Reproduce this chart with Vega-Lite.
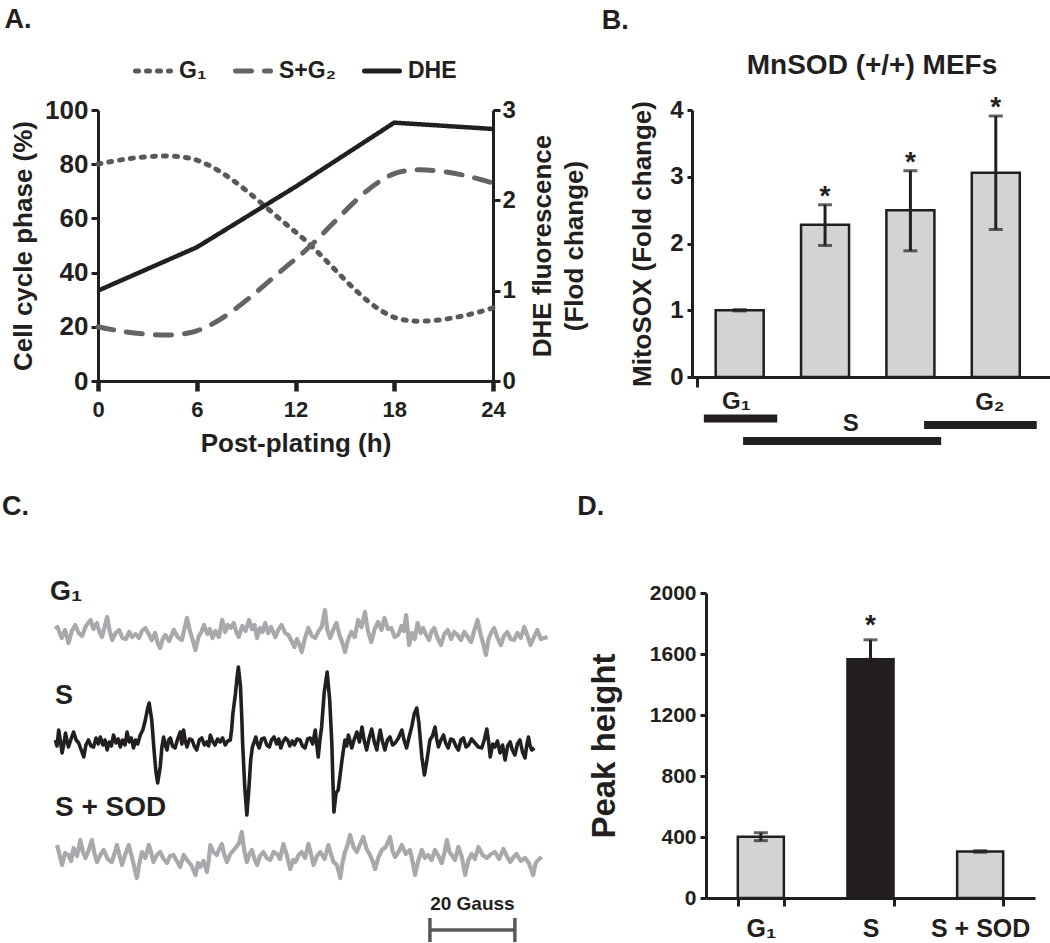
{
  "$schema": "https://vega.github.io/schema/vega-lite/v6.json",
  "background": "white",
  "padding": {"left": 2, "top": 6, "right": 0, "bottom": 0},
  "config": {
    "font": "Liberation Sans",
    "view": {"stroke": null},
    "axis": {"grid": false, "labelFontWeight": "bold", "titleFontWeight": "bold", "labelColor": "#231f20", "titleColor": "#231f20", "domainColor": "#231f20", "tickColor": "#231f20", "labelFont": "Liberation Sans", "titleFont": "Liberation Sans"},
    "title": {"font": "Liberation Sans", "fontWeight": "bold", "color": "#231f20"}
  },
  "datasets": {
    "cycle": [
      {"series": "G₁", "h": 0, "pct": 80}, {"series": "G₁", "h": 6, "pct": 81.5}, {"series": "G₁", "h": 12, "pct": 55}, {"series": "G₁", "h": 18, "pct": 23.5}, {"series": "G₁", "h": 24, "pct": 27},
      {"series": "S+G₂", "h": 0, "pct": 20}, {"series": "S+G₂", "h": 6, "pct": 18.5}, {"series": "S+G₂", "h": 12, "pct": 45}, {"series": "S+G₂", "h": 18, "pct": 76.5}, {"series": "S+G₂", "h": 24, "pct": 73}
    ],
    "dhe": [
      {"series": "DHE", "h": 0, "fold": 1.0}, {"series": "DHE", "h": 6, "fold": 1.48}, {"series": "DHE", "h": 12, "fold": 2.15}, {"series": "DHE", "h": 18, "fold": 2.86}, {"series": "DHE", "h": 24, "fold": 2.79}
    ],
    "mito": [
      {"slot": 1, "v": 1.0, "lo": 0.99, "hi": 1.01, "star": ""},
      {"slot": 2, "v": 2.28, "lo": 1.97, "hi": 2.58, "star": "*"},
      {"slot": 3, "v": 2.5, "lo": 1.89, "hi": 3.09, "star": "*"},
      {"slot": 4, "v": 3.06, "lo": 2.21, "hi": 3.91, "star": "*"}
    ],
    "phases": [
      {"phase": "G₁", "start": 0.58, "end": 1.44, "level": -0.62, "lx": 0.96, "ly": -0.38},
      {"phase": "S", "start": 1.04, "end": 3.36, "level": -0.96, "lx": 2.3, "ly": -0.71},
      {"phase": "G₂", "start": 3.16, "end": 4.48, "level": -0.72, "lx": 3.93, "ly": -0.39}
    ],
    "peak": [
      {"t": "G₁", "v": 402, "lo": 376, "hi": 428, "star": ""},
      {"t": "S", "v": 1565, "lo": 1565, "hi": 1693, "star": "*"},
      {"t": "S + SOD", "v": 305, "lo": 300, "hi": 310, "star": ""}
    ],
    "scalebar": [{"g0": 88.2, "g1": 108.2, "mid": 98.2, "label": "20 Gauss"}],
    "eprG1": [
      {"g":0,"v":6},{"g":0.5,"v":8},{"g":1.5,"v":-3},{"g":2.3,"v":5},{"g":3.1,"v":-8},{"g":3.9,"v":4},{"g":4.7,"v":10},{"g":5.5,"v":2},{"g":6.3,"v":-1},{"g":7.2,"v":9},{"g":8.3,"v":15},{"g":9,"v":6},{"g":9.8,"v":12},{"g":10.4,"v":3},{"g":11,"v":-2},{"g":11.6,"v":8},{"g":12.2,"v":18},{"g":12.8,"v":4},{"g":13.4,"v":-5},{"g":14.2,"v":2},{"g":15,"v":5},{"g":15.8,"v":-3},{"g":16.6,"v":-4},{"g":17.4,"v":3},{"g":18.1,"v":-2},{"g":18.9,"v":1},{"g":19.7,"v":-3},{"g":20.4,"v":4},{"g":21.2,"v":7},{"g":22,"v":1},{"g":22.7,"v":-5},{"g":23.5,"v":2},{"g":24.1,"v":-8},{"g":24.7,"v":-13},{"g":25.3,"v":-4},{"g":25.9,"v":0},{"g":26.8,"v":-6},{"g":27.9,"v":5},{"g":28.8,"v":-2},{"g":29.8,"v":-5},{"g":30.4,"v":6},{"g":31,"v":17},{"g":31.7,"v":4},{"g":32.4,"v":-6},{"g":33,"v":-15},{"g":33.7,"v":-2},{"g":34.4,"v":3},{"g":35,"v":10},{"g":35.8,"v":1},{"g":36.4,"v":6},{"g":37,"v":-3},{"g":37.7,"v":4},{"g":38.5,"v":-2},{"g":39.3,"v":15},{"g":40,"v":3},{"g":40.6,"v":10},{"g":41.3,"v":7},{"g":42,"v":12},{"g":42.6,"v":3},{"g":43.2,"v":-2},{"g":44,"v":9},{"g":44.8,"v":4},{"g":45.6,"v":15},{"g":46.3,"v":6},{"g":46.9,"v":10},{"g":47.5,"v":-3},{"g":48.2,"v":7},{"g":48.8,"v":3},{"g":49.4,"v":12},{"g":50.1,"v":2},{"g":50.8,"v":8},{"g":51.8,"v":-2},{"g":52.5,"v":5},{"g":53.3,"v":10},{"g":54.1,"v":2},{"g":54.9,"v":0},{"g":55.6,"v":-6},{"g":56.3,"v":-12},{"g":56.9,"v":-4},{"g":57.5,"v":-10},{"g":58,"v":-17},{"g":58.8,"v":-3},{"g":59.6,"v":7},{"g":60.4,"v":-1},{"g":61.2,"v":-3},{"g":62,"v":4},{"g":62.7,"v":8},{"g":63.1,"v":16},{"g":63.5,"v":25},{"g":64,"v":6},{"g":64.7,"v":-3},{"g":65.4,"v":5},{"g":66.2,"v":12},{"g":66.9,"v":0},{"g":67.6,"v":-8},{"g":68.2,"v":-17},{"g":68.9,"v":-5},{"g":69.7,"v":3},{"g":70.5,"v":-2},{"g":71.3,"v":15},{"g":72.1,"v":8},{"g":72.9,"v":23},{"g":73.6,"v":4},{"g":74.4,"v":-7},{"g":75.2,"v":6},{"g":76,"v":13},{"g":76.8,"v":5},{"g":77.5,"v":17},{"g":78.3,"v":6},{"g":79.1,"v":7},{"g":79.9,"v":-2},{"g":80.7,"v":0},{"g":81.5,"v":9},{"g":82.1,"v":4},{"g":82.6,"v":20},{"g":83.3,"v":-10},{"g":84,"v":2},{"g":84.6,"v":-4},{"g":85.3,"v":12},{"g":86,"v":2},{"g":86.6,"v":7},{"g":87.3,"v":0},{"g":88,"v":-5},{"g":88.6,"v":4},{"g":89.2,"v":7},{"g":90,"v":-3},{"g":90.8,"v":-10},{"g":91.6,"v":1},{"g":92.4,"v":5},{"g":93.2,"v":-4},{"g":93.9,"v":3},{"g":94.7,"v":0},{"g":95.5,"v":-5},{"g":96.3,"v":3},{"g":97.1,"v":-2},{"g":97.9,"v":-7},{"g":98.6,"v":4},{"g":99.4,"v":15},{"g":100,"v":3},{"g":100.7,"v":-8},{"g":101.4,"v":-20},{"g":102,"v":-4},{"g":102.6,"v":2},{"g":103.3,"v":7},{"g":104.1,"v":-3},{"g":104.9,"v":-10},{"g":105.6,"v":-1},{"g":106.4,"v":3},{"g":107.2,"v":-4},{"g":108,"v":-5},{"g":108.8,"v":2},{"g":109.6,"v":-3},{"g":110.4,"v":8},{"g":111.1,"v":0},{"g":111.9,"v":-10},{"g":112.7,"v":-2},{"g":113.5,"v":5},{"g":114.3,"v":-4},{"g":115.1,"v":-3},{"g":115.9,"v":-2}
    ],
    "eprS": [
      {"g":0,"v":2},{"g":0.4,"v":-4},{"g":0.8,"v":12},{"g":1.2,"v":1},{"g":1.6,"v":-11},{"g":2,"v":-2},{"g":2.4,"v":9},{"g":2.8,"v":0},{"g":3.1,"v":-5},{"g":3.7,"v":3},{"g":4.3,"v":10},{"g":4.9,"v":2},{"g":5.5,"v":-1},{"g":6.1,"v":-8},{"g":6.7,"v":-15},{"g":7.2,"v":-3},{"g":7.8,"v":2},{"g":8.4,"v":-4},{"g":9,"v":-5},{"g":9.6,"v":4},{"g":10.1,"v":-2},{"g":10.6,"v":5},{"g":11.2,"v":-3},{"g":11.7,"v":2},{"g":12.2,"v":-8},{"g":12.7,"v":0},{"g":13.2,"v":-4},{"g":13.7,"v":7},{"g":14.3,"v":-1},{"g":14.8,"v":3},{"g":15.3,"v":-5},{"g":15.8,"v":2},{"g":16.4,"v":-3},{"g":16.9,"v":10},{"g":17.4,"v":0},{"g":17.9,"v":4},{"g":18.4,"v":-6},{"g":18.9,"v":2},{"g":19.4,"v":-2},{"g":20,"v":7},{"g":20.6,"v":12},{"g":21.2,"v":22},{"g":21.7,"v":33},{"g":22.1,"v":39},{"g":22.7,"v":22},{"g":23.3,"v":-11},{"g":23.7,"v":-30},{"g":24.1,"v":-41},{"g":24.7,"v":-25},{"g":25.1,"v":-5},{"g":25.5,"v":5},{"g":25.9,"v":-3},{"g":26.3,"v":-8},{"g":26.7,"v":2},{"g":27.1,"v":4},{"g":27.6,"v":-4},{"g":28.2,"v":-6},{"g":28.8,"v":3},{"g":29.4,"v":10},{"g":29.8,"v":-2},{"g":30.2,"v":12},{"g":30.6,"v":1},{"g":31,"v":-5},{"g":31.6,"v":3},{"g":32.2,"v":2},{"g":32.7,"v":-4},{"g":33.3,"v":-8},{"g":33.9,"v":2},{"g":34.5,"v":4},{"g":35.1,"v":-3},{"g":35.7,"v":0},{"g":36.1,"v":-4},{"g":36.5,"v":7},{"g":37,"v":1},{"g":37.6,"v":-3},{"g":38.2,"v":3},{"g":38.8,"v":0},{"g":39.4,"v":4},{"g":40,"v":-3},{"g":40.6,"v":1},{"g":41.2,"v":2},{"g":41.5,"v":12},{"g":41.8,"v":28},{"g":42.4,"v":48},{"g":42.8,"v":65},{"g":43.1,"v":75},{"g":43.6,"v":55},{"g":43.9,"v":25},{"g":44.1,"v":-1},{"g":44.6,"v":-45},{"g":45.1,"v":-73},{"g":45.6,"v":-45},{"g":46,"v":-18},{"g":46.4,"v":-5},{"g":46.8,"v":0},{"g":47.2,"v":5},{"g":47.6,"v":-2},{"g":48,"v":-6},{"g":48.6,"v":3},{"g":49.2,"v":4},{"g":49.8,"v":-3},{"g":50.4,"v":-5},{"g":50.9,"v":2},{"g":51.5,"v":5},{"g":52.1,"v":-2},{"g":52.6,"v":3},{"g":53.1,"v":-6},{"g":53.6,"v":0},{"g":54.2,"v":4},{"g":54.7,"v":2},{"g":55.2,"v":-4},{"g":55.8,"v":1},{"g":56.3,"v":-3},{"g":56.9,"v":3},{"g":57.6,"v":2},{"g":58.2,"v":-4},{"g":58.8,"v":-6},{"g":59.4,"v":3},{"g":60,"v":4},{"g":60.6,"v":-2},{"g":61.2,"v":12},{"g":61.6,"v":-4},{"g":61.9,"v":-15},{"g":62.3,"v":2},{"g":62.7,"v":15},{"g":63.3,"v":49},{"g":64,"v":70},{"g":64.6,"v":42},{"g":65.1,"v":-1},{"g":65.4,"v":-45},{"g":65.6,"v":-70},{"g":66.1,"v":-51},{"g":66.6,"v":-48},{"g":67,"v":-35},{"g":67.5,"v":-18},{"g":67.9,"v":-6},{"g":68.2,"v":2},{"g":68.6,"v":-4},{"g":69,"v":7},{"g":69.4,"v":1},{"g":69.8,"v":-6},{"g":70.4,"v":3},{"g":71,"v":10},{"g":71.6,"v":0},{"g":72.2,"v":15},{"g":72.7,"v":2},{"g":73.3,"v":-8},{"g":73.9,"v":4},{"g":74.5,"v":13},{"g":75.1,"v":0},{"g":75.7,"v":-8},{"g":76.1,"v":3},{"g":76.5,"v":12},{"g":77,"v":1},{"g":77.6,"v":-8},{"g":78.2,"v":2},{"g":78.8,"v":5},{"g":79.4,"v":-3},{"g":80,"v":-1},{"g":80.8,"v":4},{"g":81.6,"v":12},{"g":82.1,"v":2},{"g":82.7,"v":-6},{"g":83.3,"v":5},{"g":83.9,"v":15},{"g":84.5,"v":28},{"g":85.1,"v":34},{"g":85.6,"v":19},{"g":86.3,"v":-15},{"g":86.9,"v":-33},{"g":87.5,"v":-18},{"g":88.2,"v":2},{"g":88.8,"v":6},{"g":89.4,"v":15},{"g":89.8,"v":3},{"g":90.2,"v":-5},{"g":90.8,"v":2},{"g":91.4,"v":7},{"g":91.9,"v":-1},{"g":92.5,"v":-6},{"g":93.1,"v":3},{"g":93.7,"v":2},{"g":94.3,"v":-4},{"g":94.9,"v":-8},{"g":95.5,"v":2},{"g":96.1,"v":4},{"g":96.7,"v":-5},{"g":97.3,"v":-3},{"g":98,"v":3},{"g":98.8,"v":-1},{"g":99.6,"v":-5},{"g":100.4,"v":-6},{"g":101,"v":2},{"g":101.6,"v":13},{"g":102,"v":1},{"g":102.4,"v":-15},{"g":103,"v":-2},{"g":103.5,"v":-5},{"g":104.1,"v":1},{"g":104.7,"v":-11},{"g":105.3,"v":-3},{"g":105.9,"v":-18},{"g":106.5,"v":-4},{"g":107.1,"v":0},{"g":107.6,"v":-8},{"g":108.2,"v":-13},{"g":108.8,"v":-2},{"g":109.4,"v":2},{"g":110,"v":-10},{"g":110.6,"v":-16},{"g":111,"v":-3},{"g":111.4,"v":5},{"g":111.8,"v":-4},{"g":112.2,"v":-8},{"g":112.8,"v":-6}
    ],
    "eprSOD": [
      {"g":0.4,"v":12},{"g":1,"v":2},{"g":1.6,"v":-8},{"g":2.3,"v":4},{"g":3.1,"v":2},{"g":3.7,"v":-4},{"g":4.3,"v":9},{"g":5.1,"v":1},{"g":5.9,"v":17},{"g":6.5,"v":5},{"g":7.1,"v":-1},{"g":7.8,"v":6},{"g":8.6,"v":17},{"g":9.2,"v":4},{"g":9.8,"v":-5},{"g":10.6,"v":2},{"g":11.4,"v":7},{"g":12.3,"v":-2},{"g":13.3,"v":-5},{"g":13.9,"v":3},{"g":14.5,"v":12},{"g":15.1,"v":2},{"g":15.7,"v":-8},{"g":16.5,"v":3},{"g":17.3,"v":12},{"g":18.2,"v":-3},{"g":19.2,"v":-21},{"g":19.8,"v":-6},{"g":20.4,"v":5},{"g":21.2,"v":-1},{"g":22,"v":12},{"g":22.6,"v":4},{"g":23.1,"v":-5},{"g":23.9,"v":2},{"g":24.7,"v":5},{"g":25.5,"v":-2},{"g":26.3,"v":-6},{"g":27,"v":1},{"g":27.8,"v":2},{"g":28.6,"v":-4},{"g":29.4,"v":-10},{"g":30.2,"v":2},{"g":31,"v":-3},{"g":32,"v":-8},{"g":33,"v":-18},{"g":33.6,"v":-6},{"g":34.1,"v":-10},{"g":34.9,"v":-4},{"g":35.7,"v":-15},{"g":36.1,"v":-4},{"g":36.5,"v":12},{"g":37.2,"v":5},{"g":38,"v":2},{"g":38.6,"v":8},{"g":39.2,"v":13},{"g":39.8,"v":2},{"g":40.4,"v":-5},{"g":41.2,"v":3},{"g":42,"v":7},{"g":42.6,"v":10},{"g":43.3,"v":14},{"g":43.9,"v":25},{"g":44.5,"v":6},{"g":45.1,"v":-5},{"g":45.7,"v":3},{"g":46.3,"v":7},{"g":46.9,"v":-2},{"g":47.5,"v":-8},{"g":48.2,"v":1},{"g":49,"v":5},{"g":49.8,"v":-1},{"g":50.6,"v":-3},{"g":51.4,"v":5},{"g":52.2,"v":3},{"g":52.9,"v":-2},{"g":53.7,"v":13},{"g":54.5,"v":2},{"g":55.3,"v":-12},{"g":56,"v":-3},{"g":56.5,"v":-5},{"g":57.3,"v":2},{"g":58,"v":5},{"g":58.8,"v":-1},{"g":59.6,"v":13},{"g":60.2,"v":3},{"g":60.8,"v":-8},{"g":61.6,"v":1},{"g":62.4,"v":5},{"g":63.4,"v":-2},{"g":64.3,"v":12},{"g":64.9,"v":3},{"g":65.5,"v":-5},{"g":66.3,"v":-8},{"g":67.1,"v":-21},{"g":67.6,"v":-6},{"g":68.2,"v":5},{"g":68.8,"v":12},{"g":69.4,"v":22},{"g":70.2,"v":10},{"g":71,"v":5},{"g":71.7,"v":12},{"g":72.5,"v":20},{"g":73.3,"v":8},{"g":74.1,"v":2},{"g":74.7,"v":-4},{"g":75.3,"v":-12},{"g":76.1,"v":0},{"g":76.9,"v":7},{"g":77.8,"v":10},{"g":78.8,"v":20},{"g":79.4,"v":6},{"g":80,"v":0},{"g":80.8,"v":5},{"g":81.6,"v":12},{"g":82.5,"v":3},{"g":83.5,"v":7},{"g":84.1,"v":-4},{"g":84.7,"v":-18},{"g":85.5,"v":-3},{"g":86.3,"v":7},{"g":87,"v":-1},{"g":87.8,"v":2},{"g":88.6,"v":-3},{"g":89.4,"v":7},{"g":90.2,"v":1},{"g":91,"v":-6},{"g":91.6,"v":4},{"g":92.2,"v":17},{"g":92.8,"v":5},{"g":93.3,"v":2},{"g":94.1,"v":-3},{"g":94.9,"v":10},{"g":95.7,"v":0},{"g":96.5,"v":-18},{"g":97.2,"v":-4},{"g":98,"v":3},{"g":98.8,"v":-2},{"g":99.6,"v":10},{"g":100.6,"v":2},{"g":101.6,"v":-1},{"g":102.6,"v":3},{"g":103.5,"v":5},{"g":104.5,"v":-2},{"g":105.5,"v":8},{"g":106.3,"v":1},{"g":107.1,"v":-5},{"g":107.9,"v":0},{"g":108.6,"v":3},{"g":109.6,"v":-4},{"g":110.6,"v":-1},{"g":111.5,"v":-6},{"g":112.5,"v":-18},{"g":113.1,"v":-6},{"g":113.7,"v":-3},{"g":114.5,"v":0}
    ]
  },
  "columns": 1,
  "align": "none",
  "spacing": {"row": 37, "column": 0},
  "resolve": {"scale": {"color": "independent", "strokeDash": "independent", "x": "independent", "y": "independent"}},
  "concat": [
    {
      "columns": 2,
      "align": "none",
      "spacing": {"row": 0, "column": 13},
      "resolve": {"scale": {"color": "independent", "strokeDash": "independent", "x": "independent", "y": "independent"}},
      "concat": [
        {
          "title": {"text": "A.", "anchor": "start", "frame": "bounds", "fontSize": 27, "dx": -6, "offset": 17},
          "vconcat": [
            {
              "width": 395,
              "height": 271,
              "encoding": {
                "x": {"field": "h", "type": "quantitative", "title": "Post-plating (h)", "scale": {"domain": [0, 24], "nice": false},
                  "axis": {"values": [0, 6, 12, 18, 24], "labelFlush": false, "labelFontSize": 22, "titleFontSize": 26, "tickSize": 10, "tickWidth": 4.5, "domainWidth": 3, "labelPadding": 8, "titlePadding": 10}}
              },
              "layer": [
                {
                  "data": {"name": "cycle"},
                  "mark": {"type": "line", "interpolate": "cardinal", "strokeWidth": 5, "strokeCap": "round"},
                  "encoding": {
                    "y": {"field": "pct", "type": "quantitative", "title": "Cell cycle phase (%)", "scale": {"domain": [0, 100], "nice": false},
                      "axis": {"values": [0, 20, 40, 60, 80, 100], "format": "d", "labelFontSize": 26, "titleFontSize": 26, "tickSize": 7, "tickWidth": 3, "domainWidth": 3, "labelPadding": 3, "titlePadding": 8}},
                    "color": {"field": "series", "type": "nominal", "scale": {"domain": ["G₁", "S+G₂", "DHE"], "range": ["#58595b", "#636466", "#231f20"]},
                      "legend": {"orient": "none", "legendX": 35, "legendY": -59, "direction": "horizontal", "title": null, "symbolType": "stroke", "symbolSize": 1225, "symbolStrokeWidth": 5, "labelFontSize": 23, "labelFontWeight": "bold", "labelFont": "Liberation Sans", "labelColor": "#231f20", "labelOffset": 6, "columnPadding": 18, "encode": {"symbols": {"update": {"strokeCap": {"value": "round"}}}}}},
                    "strokeDash": {"field": "series", "type": "nominal", "scale": {"domain": ["G₁", "S+G₂", "DHE"], "range": [[3, 8], [16, 13], [1, 0]]},
                      "legend": {"orient": "none", "legendX": 35, "legendY": -59, "direction": "horizontal", "title": null, "symbolType": "stroke", "symbolSize": 1225, "symbolStrokeWidth": 5, "labelFontSize": 23, "labelFontWeight": "bold", "labelFont": "Liberation Sans", "labelColor": "#231f20", "labelOffset": 6, "columnPadding": 18, "encode": {"symbols": {"update": {"strokeCap": {"value": "round"}}}}}}
                  }
                },
                {
                  "data": {"name": "dhe"},
                  "mark": {"type": "line", "strokeWidth": 4.5, "strokeJoin": "miter"},
                  "encoding": {
                    "y": {"field": "fold", "type": "quantitative", "title": ["DHE fluorescence", "(Flod change)"], "scale": {"domain": [0, 3], "nice": false},
                      "axis": {"orient": "right", "values": [0, 1, 2, 3], "format": "d", "labelFontSize": 24, "titleFontSize": 26, "titleAngle": 270, "titleLineHeight": 32, "tickSize": 7, "tickWidth": 3, "domainWidth": 3, "labelPadding": 2, "titlePadding": 8}},
                    "color": {"field": "series", "type": "nominal"},
                    "strokeDash": {"field": "series", "type": "nominal"}
                  }
                }
              ],
              "resolve": {"scale": {"y": "independent"}}
            }
          ]
        },
        {
          "title": {"text": "B.", "anchor": "start", "frame": "bounds", "fontSize": 27, "dx": -28, "offset": 17},
          "vconcat": [
            {
              "width": 360,
              "height": 267,
              "title": {"text": "MnSOD (+/+) MEFs", "anchor": "middle", "frame": "group", "fontSize": 28, "offset": 14},
              "layer": [
                {
                  "data": {"name": "mito"},
                  "mark": {"type": "bar", "width": 48, "fill": "#d1d3d4", "stroke": "#231f20", "strokeWidth": 2.5},
                  "encoding": {
                    "x": {"field": "slot", "type": "quantitative", "title": null, "scale": {"domain": [0.5, 4.6], "nice": false, "zero": false},
                      "axis": {"values": [0.5], "labels": false, "tickSize": 10, "tickWidth": 3, "domainWidth": 3}},
                    "y": {"field": "v", "type": "quantitative", "title": "MitoSOX (Fold change)", "scale": {"domain": [0, 4], "nice": false},
                      "axis": {"values": [0, 1, 2, 3, 4], "format": "d", "labelFontSize": 24, "titleFontSize": 26, "tickSize": 5, "tickWidth": 3, "domainWidth": 3, "labelPadding": 4, "titlePadding": 14}}
                  }
                },
                {
                  "data": {"name": "mito"},
                  "mark": {"type": "errorbar", "ticks": {"size": 14}, "thickness": 3, "color": "#231f20"},
                  "encoding": {
                    "x": {"field": "slot", "type": "quantitative", "title": null},
                    "y": {"field": "lo", "type": "quantitative", "title": "MitoSOX (Fold change)"},
                    "y2": {"field": "hi"}
                  }
                },
                {
                  "data": {"name": "mito"},
                  "mark": {"type": "text", "fontSize": 28, "fontWeight": "bold", "baseline": "alphabetic", "color": "#231f20"},
                  "encoding": {
                    "x": {"field": "slot", "type": "quantitative", "title": null},
                    "y": {"field": "hi", "type": "quantitative", "title": "MitoSOX (Fold change)"},
                    "text": {"field": "star"}
                  }
                },
                {
                  "data": {"name": "phases"},
                  "mark": {"type": "rule", "strokeWidth": 8, "color": "#231f20", "clip": false},
                  "encoding": {
                    "x": {"field": "start", "type": "quantitative", "title": null},
                    "x2": {"field": "end"},
                    "y": {"field": "level", "type": "quantitative", "title": "MitoSOX (Fold change)"}
                  }
                },
                {
                  "data": {"name": "phases"},
                  "mark": {"type": "text", "fontSize": 24, "fontWeight": "bold", "baseline": "middle", "color": "#231f20", "clip": false},
                  "encoding": {
                    "x": {"field": "lx", "type": "quantitative", "title": null},
                    "y": {"field": "ly", "type": "quantitative", "title": "MitoSOX (Fold change)"},
                    "text": {"field": "phase"}
                  }
                }
              ]
            }
          ]
        }
      ]
    },
    {
      "columns": 2,
      "align": "none",
      "spacing": {"row": 0, "column": 27},
      "resolve": {"scale": {"color": "independent", "strokeDash": "independent", "x": "independent", "y": "independent"}},
      "concat": [
        {
          "title": {"text": "C.", "anchor": "start", "frame": "bounds", "fontSize": 27, "dx": -48, "offset": 57},
          "columns": 1,
          "align": "none",
          "bounds": "flush",
          "spacing": {"row": 55, "column": 0},
          "resolve": {"scale": {"y": "independent"}},
          "concat": [
            {
              "title": {"text": "G₁", "anchor": "start", "frame": "group", "fontSize": 27, "dx": -48, "offset": -13},
              "width": 450,
              "height": 67,
              "data": {"name": "eprG1"},
              "mark": {"type": "line", "color": "#a7a9ac", "strokeWidth": 4.2, "strokeJoin": "round", "clip": false},
              "encoding": {
                "x": {"field": "g", "type": "quantitative", "scale": {"domain": [10.05, 116], "nice": false, "zero": false}, "axis": null},
                "y": {"field": "v", "type": "quantitative", "scale": {"domain": [-25, 42], "nice": false}, "axis": null}
              }
            },
            {
              "title": {"text": "S", "anchor": "start", "frame": "group", "fontSize": 27, "dx": -43, "offset": -45},
              "width": 450,
              "height": 67,
              "data": {"name": "eprS"},
              "mark": {"type": "line", "color": "#231f20", "strokeWidth": 3.6, "strokeJoin": "round", "clip": false},
              "encoding": {
                "x": {"field": "g", "type": "quantitative", "scale": {"domain": [10.05, 116], "nice": false, "zero": false}, "axis": null},
                "y": {"field": "v", "type": "quantitative", "scale": {"domain": [-40, 27], "nice": false}, "axis": null}
              }
            },
            {
              "title": {"text": "S + SOD", "anchor": "start", "frame": "group", "fontSize": 28, "dx": -43, "offset": 8},
              "width": 450,
              "height": 45,
              "layer": [
                {
                  "data": {"name": "eprSOD"},
                  "mark": {"type": "line", "color": "#a7a9ac", "strokeWidth": 4.2, "strokeJoin": "round", "clip": false},
                  "encoding": {
                    "x": {"field": "g", "type": "quantitative", "scale": {"domain": [10.05, 116], "nice": false, "zero": false}, "axis": null},
                    "y": {"field": "v", "type": "quantitative", "scale": {"domain": [-25, 20], "nice": false}, "axis": null}
                  }
                },
                {
                  "data": {"name": "scalebar"},
                  "mark": {"type": "rule", "color": "#58595b", "strokeWidth": 3.5, "clip": false},
                  "encoding": {
                    "x": {"field": "g0", "type": "quantitative"},
                    "x2": {"field": "g1"},
                    "y": {"datum": -73}
                  }
                },
                {
                  "data": {"name": "scalebar"},
                  "mark": {"type": "rule", "color": "#58595b", "strokeWidth": 3.5, "clip": false},
                  "encoding": {
                    "x": {"field": "g0", "type": "quantitative"},
                    "y": {"datum": -61},
                    "y2": {"datum": -85}
                  }
                },
                {
                  "data": {"name": "scalebar"},
                  "mark": {"type": "rule", "color": "#58595b", "strokeWidth": 3.5, "clip": false},
                  "encoding": {
                    "x": {"field": "g1", "type": "quantitative"},
                    "y": {"datum": -61},
                    "y2": {"datum": -85}
                  }
                },
                {
                  "data": {"name": "scalebar"},
                  "mark": {"type": "text", "fontSize": 19, "fontWeight": "bold", "baseline": "alphabetic", "color": "#231f20", "clip": false},
                  "encoding": {
                    "x": {"field": "mid", "type": "quantitative"},
                    "y": {"datum": -53},
                    "text": {"field": "label"}
                  }
                }
              ]
            }
          ]
        },
        {
          "title": {"text": "D.", "anchor": "start", "frame": "bounds", "fontSize": 27, "dx": -11, "offset": 61},
          "vconcat": [
            {
              "width": 329,
              "height": 305,
              "data": {"name": "peak"},
              "encoding": {
                "x": {"field": "t", "type": "nominal", "sort": null, "title": null,
                  "scale": {"paddingInner": 0.58, "paddingOuter": 0.29},
                  "axis": {"labelAngle": 0, "labelFontSize": 25, "labelPadding": 10, "tickBand": "extent", "tickSize": 8, "tickWidth": 3, "domainWidth": 3}}
              },
              "layer": [
                {
                  "mark": {"type": "bar", "stroke": "#231f20", "strokeWidth": 2.5},
                  "encoding": {
                    "y": {"field": "v", "type": "quantitative", "title": "Peak height", "scale": {"domain": [0, 2000], "nice": false},
                      "axis": {"values": [0, 400, 800, 1200, 1600, 2000], "format": "d", "labelFontSize": 21, "titleFontSize": 33, "tickSize": 6, "tickWidth": 3, "domainWidth": 3, "labelPadding": 4, "titlePadding": 28}},
                    "color": {"field": "t", "type": "nominal", "scale": {"domain": ["G₁", "S", "S + SOD"], "range": ["#d1d3d4", "#231f20", "#d1d3d4"]}, "legend": null}
                  }
                },
                {
                  "mark": {"type": "errorbar", "ticks": {"size": 14}, "thickness": 3, "color": "#231f20"},
                  "encoding": {
                    "y": {"field": "lo", "type": "quantitative", "title": "Peak height"},
                    "y2": {"field": "hi"}
                  }
                },
                {
                  "mark": {"type": "text", "fontSize": 28, "fontWeight": "bold", "baseline": "alphabetic", "dy": -6, "color": "#231f20"},
                  "encoding": {
                    "y": {"field": "hi", "type": "quantitative", "title": "Peak height"},
                    "text": {"field": "star"}
                  }
                }
              ]
            }
          ]
        }
      ]
    }
  ]
}
